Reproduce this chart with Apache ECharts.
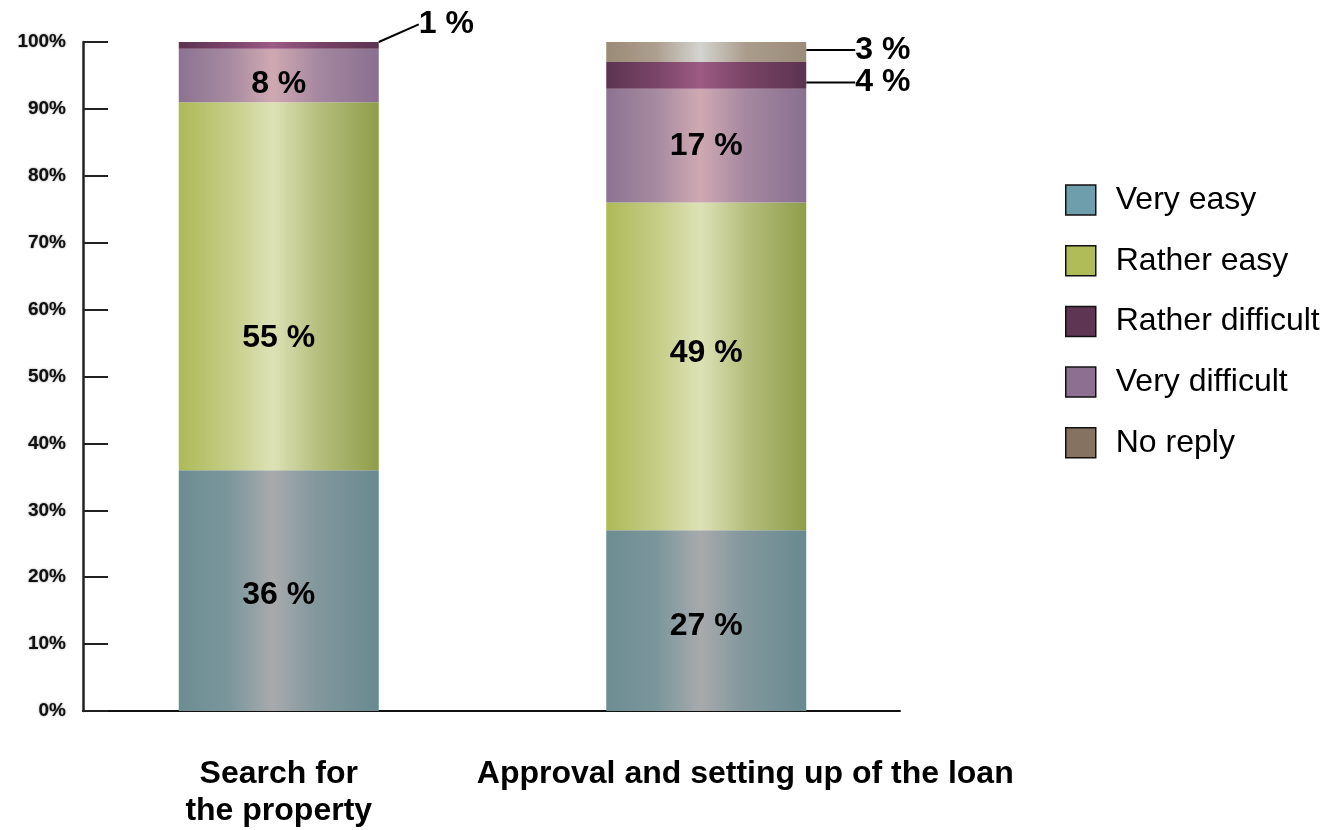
<!DOCTYPE html>
<html>
<head>
<meta charset="utf-8">
<script src="https://cdn.jsdelivr.net/npm/echarts@6/dist/echarts.min.js"></script>
<style>
  html, body { margin: 0; padding: 0; background: #fff; }
  #chart { width: 1333px; height: 830px; }
</style>
</head>
<body>
<div id="chart"></div>
<script>
// Survey answers, percent of respondents per stage
const categories = ['Search for\nthe property', 'Approval and setting up of the loan'];
const seriesNames = ['Very easy', 'Rather easy', 'Very difficult', 'Rather difficult', 'No reply'];
const veryEasy = [36, 27];
const ratherEasy = [55, 49];
const veryDifficult = [8, 17];
const ratherDifficult = [1, 4];
const noReply = [null, 3];
const legendOrder = ['Very easy', 'Rather easy', 'Rather difficult', 'Very difficult', 'No reply'];
const yMin = 0, yMax = 100, yStep = 10;

const FONT = '"Liberation Sans", Arial, sans-serif';

// flat swatch colours for the legend
const swatch = {
  'Very easy': '#6e9dab',
  'Rather easy': '#afbc57',
  'Rather difficult': '#5e3553',
  'Very difficult': '#8d7091',
  'No reply': '#857260'
};

// cylinder-like horizontal shading for each segment
function shade(stops) {
  return new echarts.graphic.LinearGradient(0, 0, 1, 0,
    stops.map(s => ({ offset: s[0], color: s[1] })));
}
const fills = {
  'Very easy': shade([[0, '#6d8d93'], [0.25, '#7a969b'], [0.47, '#a8aaad'], [0.68, '#83989d'], [1, '#688a90']]),
  'Rather easy': shade([[0, '#aeba58'], [0.25, '#c4cc85'], [0.47, '#dde2b6'], [0.7, '#b5be7c'], [1, '#8f9d4a']]),
  'Very difficult': shade([[0, '#8c7392'], [0.25, '#a68aa0'], [0.47, '#cfa9b2'], [0.7, '#a587a0'], [1, '#897090']]),
  'Rather difficult': shade([[0, '#5c3351'], [0.25, '#7a4468'], [0.47, '#9c5b83'], [0.7, '#794366'], [1, '#5c3351']]),
  'No reply': shade([[0, '#9a8a77'], [0.25, '#ad9f8f'], [0.47, '#d4d4d0'], [0.7, '#aa9c8b'], [1, '#9b8c7a']])
};

const values = {
  'Very easy': veryEasy,
  'Rather easy': ratherEasy,
  'Very difficult': veryDifficult,
  'Rather difficult': ratherDifficult,
  'No reply': noReply
};

// vertical nudges for the in-bar labels
const labelNudge = {
  'Very easy': [5, 5],
  'Rather easy': [52, -13],
  'Very difficult': [9, 0],
  'Rather difficult': [0, 0],
  'No reply': [0, 0]
};

// thin top segments get their labels pulled out to the right with a leader line
const outside = {
  'Rather difficult': [{ dx: 35, dy: -21 }, { dx: 44, dy: 7 }],
  'No reply': [null, { dx: 44, dy: -2 }]
};

const labelText = {
  color: '#000',
  fontFamily: FONT,
  fontWeight: 'bold',
  fontSize: 32
};

const series = seriesNames.map(name => {
  const isOut = !!outside[name];
  return {
    name: name,
    type: 'bar',
    stack: 'total',
    barWidth: 200,
    xAxisIndex: 0,
    yAxisIndex: 0,
    itemStyle: { color: fills[name] },
    data: values[name].map((v, i) => ({
      value: v,
      label: isOut ? {} : { offset: [0, labelNudge[name][i]] }
    })),
    label: Object.assign({
      show: true,
      position: isOut ? 'right' : 'inside',
      formatter: p => p.value + ' %'
    }, labelText),
    labelLine: isOut ? { show: true, lineStyle: { color: '#000', width: 2 } } : { show: false },
    labelLayout: isOut ? (params => outside[name][params.dataIndex] || {}) : undefined,
    emphasis: { disabled: true }
  };
});

// baseline axis drawn on its own grid so it spans the plot frame only
series.push({
  type: 'line',
  xAxisIndex: 1,
  yAxisIndex: 1,
  data: [],
  silent: true
});

const chart = echarts.init(document.getElementById('chart'), null, { renderer: 'canvas' });
chart.setOption({
  animation: false,
  backgroundColor: '#ffffff',
  grid: [
    { left: 65, right: 413, top: 42, bottom: 119 },
    { left: 83, right: 433, top: 42, bottom: 119 }
  ],
  legend: {
    orient: 'vertical',
    left: 1065,
    top: 184,
    padding: 0,
    itemWidth: 30,
    itemHeight: 30,
    itemGap: 28.7,
    icon: 'rect',
    selectedMode: false,
    textStyle: {
      fontFamily: FONT,
      fontSize: 32,
      lineHeight: 30,
      color: '#000',
      padding: [0, 0, 0, 15]
    },
    data: legendOrder.map(n => ({
      name: n,
      itemStyle: { color: swatch[n], borderColor: '#111', borderWidth: 1.5 }
    }))
  },
  xAxis: [
    {
      type: 'category',
      gridIndex: 0,
      data: categories.map((c, i) => i === 1
        ? { value: c, textStyle: { padding: [0, 0, 0, 78] } }
        : c),
      axisLine: { show: false },
      axisTick: { show: false },
      axisLabel: {
        margin: 45,
        fontFamily: FONT,
        fontWeight: 'bold',
        fontSize: 32,
        lineHeight: 37,
        color: '#000',
        interval: 0
      }
    },
    {
      type: 'value',
      gridIndex: 1,
      min: 0,
      max: 1,
      axisLine: { show: true, onZero: false, lineStyle: { color: '#111', width: 2 } },
      axisTick: { show: false },
      axisLabel: { show: false },
      splitLine: { show: false }
    }
  ],
  yAxis: [
    {
      type: 'value',
      gridIndex: 0,
      min: yMin,
      max: yMax,
      interval: yStep,
      offset: -18,
      axisLine: { show: true, lineStyle: { color: '#222', width: 2.5 } },
      axisTick: { show: true, inside: true, length: 25, lineStyle: { color: '#222', width: 2 } },
      splitLine: { show: false },
      axisLabel: {
        formatter: '{value}%',
        margin: 17,
        fontFamily: FONT,
        fontWeight: 'bold',
        fontSize: 19,
        color: '#111',
        textShadowColor: 'rgba(0,0,0,0.5)',
        textShadowBlur: 2
      }
    },
    {
      type: 'value',
      gridIndex: 1,
      show: false,
      min: yMin,
      max: yMax
    }
  ],
  series: series
});
</script>
</body>
</html>
